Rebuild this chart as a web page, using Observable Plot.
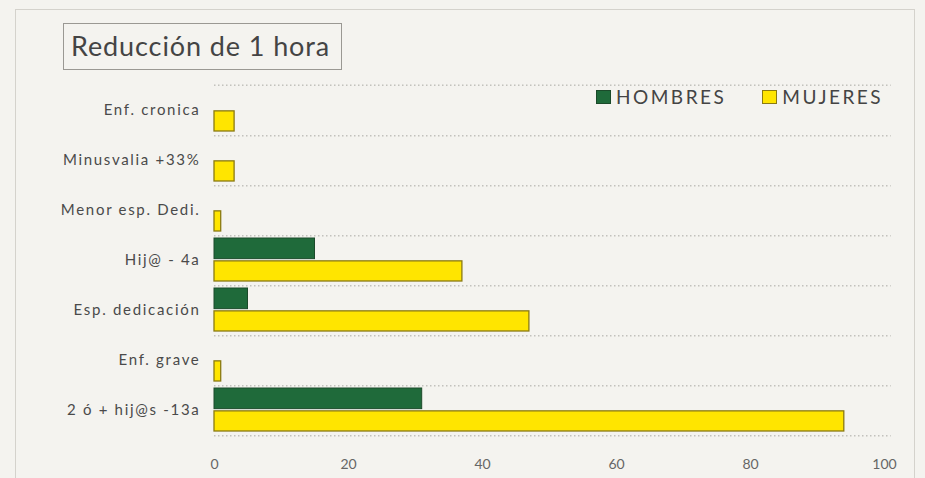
<!DOCTYPE html>
<html><head><meta charset="utf-8">
<script src="https://cdn.jsdelivr.net/npm/d3@7"></script>
<script src="https://cdn.jsdelivr.net/npm/@observablehq/plot@0.6"></script>
<style>
html,body{margin:0;padding:0;background:#f4f3ef;}
#wrap{position:relative;width:925px;height:478px;overflow:hidden;background:#f4f3ef;font-family:Lato,"Open Sans",sans-serif;}
#frame{position:absolute;left:15px;top:9px;width:900px;height:480px;border:1px solid #d4d2cc;box-sizing:border-box;}
#title{position:absolute;left:63px;top:23px;width:279px;height:47px;border:1.5px solid #9a9893;box-sizing:border-box;font-size:27px;letter-spacing:0.9px;color:#444;line-height:44px;padding-left:7px;white-space:nowrap;}
#legend{position:absolute;left:596px;top:85px;font-size:19px;color:#444;display:flex;align-items:center;white-space:nowrap;letter-spacing:2.5px;}
#legend .sw{display:inline-block;width:15px;height:14px;margin-right:5px;box-sizing:border-box;}
#chart{position:absolute;left:0;top:0;}
</style></head>
<body><div id="wrap"><div id="frame"></div><div id="chart"></div><div id="title">Reducción de 1 hora</div><div id="legend"></div></div>
<script>
const categories = ["Enf. cronica","Minusvalia +33%","Menor esp. Dedi.","Hij@ - 4a","Esp. dedicación","Enf. grave","2 ó + hij@s -13a"];
const series = ["HOMBRES","MUJERES"];
const hombres = [0,0,0,15,5,0,31];
const mujeres = [3,3,1,37,47,1,94];
const xTicks = [0,20,40,60,80,100];
const colors = {HOMBRES:"#1f6a3a", MUJERES:"#ffe500"};
const strokes = {HOMBRES:"#1b4a2a", MUJERES:"#8a7a12"};

const rowsH = categories.map((c,i)=>({cat:c, series:"HOMBRES", value:hombres[i]})).filter(d=>d.value>0);
const rowsM = categories.map((c,i)=>({cat:c, series:"MUJERES", value:mujeres[i]}));

const W=925,H=478,mT=82,mB=41,mL=214,mR=41;
const bw=(H-mT-mB)/categories.length;

const plot = Plot.plot({
  width:W, height:H, marginTop:mT, marginBottom:mB, marginLeft:mL, marginRight:mR,
  style:{background:"transparent", fontFamily:"Lato, 'Open Sans', sans-serif", color:"#555"},
  x:{domain:[0,100], ticks:xTicks, tickSize:0, tickPadding:22, label:null},
  y:{domain:categories, padding:0, tickSize:0, tickPadding:14, label:null},
  marks:[
    Plot.ruleY(categories,{y:d=>d, x1:0, x2:101, dy:bw/2, stroke:"#a9a7a2", strokeDasharray:"1.5,2.5", strokeWidth:1}),
    Plot.ruleY(categories.slice(0,1),{y:d=>d, x1:0, x2:101, dy:-bw/2, stroke:"#a9a7a2", strokeDasharray:"1.5,2.5", strokeWidth:1}),
    Plot.barX(rowsH,{y:"cat", x:"value", fill:colors.HOMBRES, stroke:strokes.HOMBRES, strokeWidth:1, insetTop:3, insetBottom:bw/2+1}),
    Plot.barX(rowsM,{y:"cat", x:"value", fill:colors.MUJERES, stroke:strokes.MUJERES, strokeWidth:1.3, insetTop:bw/2+0.5, insetBottom:4})
  ]
});
plot.querySelectorAll('[aria-label="y-axis tick label"] text').forEach(t=>{t.style.fontSize="15px";t.style.letterSpacing="1.7px";t.setAttribute("fill","#4a4a4a");});
plot.querySelectorAll('[aria-label="x-axis tick label"] text').forEach(t=>{t.style.fontSize="14px";t.setAttribute("fill","#666");});
document.getElementById("chart").appendChild(plot);

const lg=document.getElementById("legend");
series.forEach((s,i)=>{
  const item=document.createElement("span");
  item.style.display="inline-flex";item.style.alignItems="center";
  if(i>0) item.style.marginLeft="36px";
  item.innerHTML=`<span class="sw" style="background:${colors[s]};border:1px solid ${strokes[s]}"></span>${s}`;
  lg.appendChild(item);
});
</script></body></html>
